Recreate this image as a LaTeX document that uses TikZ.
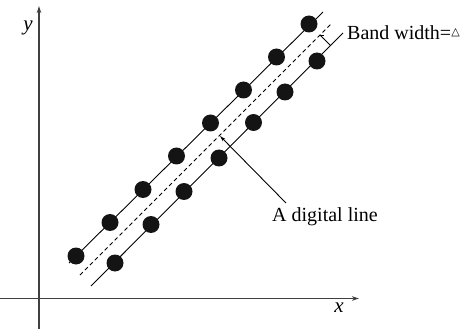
\documentclass[tikz,border=0pt]{standalone}
\usepackage{fontspec}
\setmainfont{Liberation Serif}
\newfontfamily\trifont{DejaVu Sans}
\usetikzlibrary{arrows.meta}
\begin{document}
\begin{tikzpicture}[x=1pt,y=-1pt,
  dot/.style={circle,fill=black!92,inner sep=0pt,minimum size=17pt},
  lbl/.style={font=\rmfamily\fontsize{20}{24}\selectfont,inner sep=0pt},
  axislbl/.style={font=\rmfamily\fontsize{21}{24}\selectfont\itshape,inner sep=0pt,anchor=base},
  axisline/.style={line width=1.1pt,draw=black!75,-{Stealth[length=7pt,width=4.5pt]}},
  bandline/.style={line width=0.9pt},
  midline/.style={line width=0.9pt,dash pattern=on 4pt off 3pt}]
\useasboundingbox (0,0) rectangle (472,329);
% axes
\coordinate (yb) at (39,329);
\coordinate (yt) at (39,6);
\coordinate (xl) at (0,298.5);
\coordinate (xr) at (359,298.5);
\draw[axisline] (yb) -- (yt);
\draw[axisline] (xl) -- (xr);
\node[axislbl] (ylab) at (28,31) {y};
\node[axislbl] (xlab) at (339,312) {x};
% band lines
\coordinate (ua) at (69,263);
\coordinate (ub) at (323,12);
\coordinate (ma) at (80,275);
\coordinate (mb) at (332,23);
\coordinate (la) at (91,286);
\coordinate (lb) at (343,33);
\draw[bandline] (ua) -- (ub);
\draw[midline] (ma) -- (mb);
\draw[bandline] (la) -- (lb);
% band width mark
\coordinate (bw1) at (320,35);
\coordinate (bw2) at (330.5,45.5);
\draw[bandline] (bw1) -- (bw2);
\draw[bandline] (bw1) -- ++(4,0);
% dots upper
\foreach \i/\x/\y in {1/76/256,2/110/222.5,3/143/189.5,4/176.5/156,5/210.5/123,6/243.5/90,7/276.5/57,8/309/24}
  \node[dot] (u\i) at (\x,\y) {};
% dots lower
\foreach \i/\x/\y in {1/115/263,2/151/224.5,3/184/191.5,4/219/158,5/253.5/122.5,6/285/92,7/317/61}
  \node[dot] (l\i) at (\x,\y) {};
% labels
\node[lbl,anchor=west] (bw) at (347,33) {Band width=\raisebox{4.5pt}{\trifont\fontsize{11}{11}\selectfont △}};
\node[lbl] (dl) at (325,217) {A digital line};
\coordinate (dlstart) at (286,203);
\coordinate (dlend) at (220,136);
\draw[bandline,-{Stealth[length=6pt,width=3.5pt]}] (dlstart) -- (dlend);
\end{tikzpicture}
\end{document}
